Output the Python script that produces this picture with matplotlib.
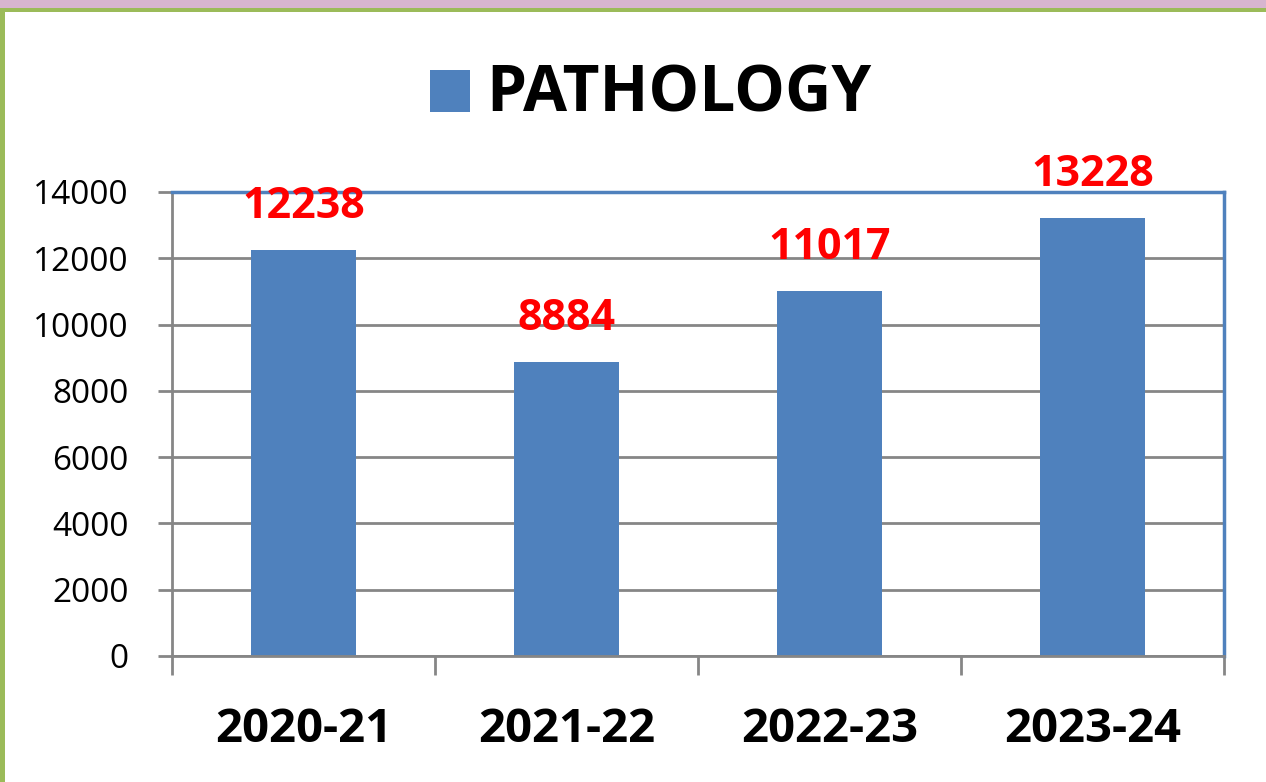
import matplotlib
matplotlib.use("Agg")
import matplotlib.pyplot as plt
from matplotlib.patches import Rectangle

categories = ["2020-21", "2021-22", "2022-23", "2023-24"]
values = [12238, 8884, 11017, 13228]
series_name = "PATHOLOGY"
yticks = [0, 2000, 4000, 6000, 8000, 10000, 12000, 14000]

plt.rcParams['font.family'] = ['Open Sans', 'DejaVu Sans']

W, H = 1266, 782
fig = plt.figure(figsize=(W / 100, H / 100), dpi=100)
fig.patch.set_facecolor("white")

# outer decorative frame
fig.add_artist(Rectangle((0, 1 - 9 / H), 1, 9 / H, transform=fig.transFigure,
                         facecolor="#D7B5CF", edgecolor="none", zorder=0))
fig.add_artist(Rectangle((0, 1 - 12 / H), 1, 4 / H, transform=fig.transFigure,
                         facecolor="#9BBB59", edgecolor="none", zorder=0))
fig.add_artist(Rectangle((0, 0), 5 / W, 1 - 9 / H, transform=fig.transFigure,
                         facecolor="#9BBB59", edgecolor="none", zorder=0))

L, R, B, T = 172, 1224, 656, 192
ax = fig.add_axes([L / W, 1 - B / H, (R - L) / W, (B - T) / H])
x = list(range(len(categories)))
ax.bar(x, values, width=0.4, color="#4F81BD", zorder=3)
ax.set_xlim(-0.5, len(categories) - 0.5)
ax.set_ylim(0, 14000)
ax.set_yticks(yticks)
ax.set_yticklabels([str(v) for v in yticks], fontsize=24)
ax.set_xticks(x)
ax.set_xticklabels(categories, fontsize=34, fontweight="bold")
ax.tick_params(axis="x", length=0, pad=36)
ax.tick_params(axis="y", length=10, width=2, color="#868686", pad=21)

# category boundary ticks
ax.set_xticks([i - 0.5 for i in range(len(categories) + 1)], minor=True)
ax.tick_params(axis="x", which="minor", length=14, width=2, color="#868686")

ax.yaxis.grid(True, color="#868686", linewidth=2, zorder=0)
ax.set_axisbelow(True)
for s in ["top", "right"]:
    ax.spines[s].set_color("#4F81BD")
    ax.spines[s].set_linewidth(2.5)
for s in ["left", "bottom"]:
    ax.spines[s].set_color("#868686")
    ax.spines[s].set_linewidth(2)
ax.spines["bottom"].set_zorder(4)

for xi, v in zip(x, values):
    ax.annotate(str(v), (xi, v), xytext=(0, 23), textcoords="offset points",
                ha="center", va="baseline", color="#FF0000", fontsize=31,
                fontweight="bold", annotation_clip=False)

# legend as title
fig.add_artist(Rectangle((430 / W, 1 - 112 / H), 40 / W, 42 / H,
                         transform=fig.transFigure, facecolor="#4F81BD",
                         edgecolor="none"))
fig.text(486 / W, 1 - 112 / H, series_name, fontsize=46, fontweight="bold",
         va="baseline", ha="left", color="black")

fig.savefig("out.png", dpi=100, facecolor="white")
